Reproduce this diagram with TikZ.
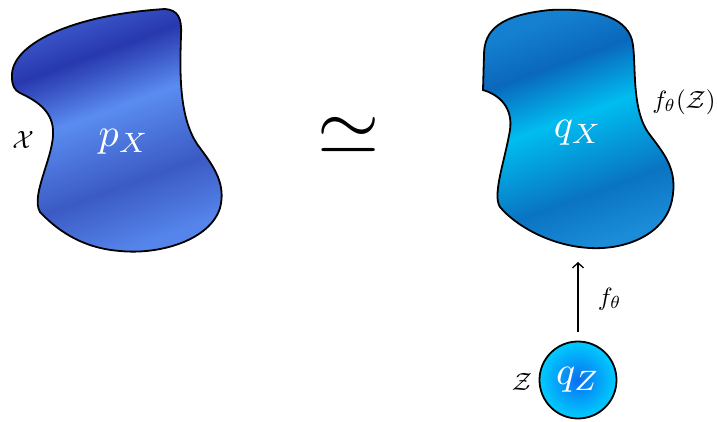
\documentclass[tikz,border=0pt]{standalone}
\usepackage{amsmath,amssymb}
\usetikzlibrary{arrows.meta}
\definecolor{ldA}{HTML}{3A56C8}
\definecolor{ldB}{HTML}{2838AE}
\definecolor{ldC}{HTML}{5A8CF0}
\definecolor{ldD}{HTML}{3B5AC4}
\definecolor{ldE}{HTML}{5585EA}
\definecolor{rdA}{HTML}{1580D0}
\definecolor{rdB}{HTML}{0A68BC}
\definecolor{rdC}{HTML}{00BDF0}
\definecolor{rdD}{HTML}{0A74C2}
\definecolor{rdE}{HTML}{1A8CD8}
\definecolor{czin}{HTML}{0A6FF0}
\definecolor{czout}{HTML}{00CCFF}
\pgfdeclareverticalshading{blobL}{100bp}{color(0bp)=(ldE); color(26bp)=(ldE); color(39bp)=(ldD); color(55bp)=(ldC); color(67bp)=(ldB); color(75bp)=(ldA); color(100bp)=(ldA)}
\pgfdeclareverticalshading{blobR}{100bp}{color(0bp)=(rdE); color(25bp)=(rdE); color(36bp)=(rdD); color(53bp)=(rdC); color(65bp)=(rdB); color(75bp)=(rdA); color(100bp)=(rdA)}
\tikzset{
  blob/.style={draw=black, line width=1.8pt},
  bigtxt/.style={text=white, scale=4},
  lbl/.style={text=black, scale=2.5},
}
\begin{document}
\begin{tikzpicture}[x=1pt,y=-1pt]
\useasboundingbox (0,0) rectangle (717,422);
% left blob
\shade[blob, shading=blobL, shading angle=20]
  (12,77) .. controls (10,45) and (70,15) .. (165,9)
  .. controls (178,10) and (182,18) .. (181,35)
  .. controls (180,70) and (178,120) .. (200,148)
  .. controls (215,168) and (226,185) .. (220,208)
  .. controls (210,240) and (160,255) .. (120,251)
  .. controls (80,248) and (55,228) .. (40,212)
  .. controls (30,195) and (55,155) .. (53,130)
  .. controls (52,110) and (35,100) .. (20,93)
  .. controls (14,90) and (12,85) .. (12,77) -- cycle;
\node[bigtxt] (px) at (124,142) {$p_X$};
\node[lbl] (calx) at (23,140) {$\mathcal{X}$};
% similar
\node[scale=8] (sim) at (349,136) {$\simeq$};
% right blob
\shade[blob, shading=blobR, shading angle=20]
  (483,90) -- (484,55) .. controls (484,30) and (500,15) .. (550,10)
  .. controls (590,8) and (625,15) .. (632,40)
  .. controls (637,60) and (630,110) .. (650,135)
  .. controls (665,155) and (678,170) .. (672,200)
  .. controls (665,235) and (625,250) .. (590,248)
  .. controls (550,246) and (515,225) .. (500,207)
  .. controls (492,195) and (505,160) .. (510,130)
  .. controls (513,108) and (500,95) .. (483,90) -- cycle;
\node[bigtxt] (qx) at (578,133) {$q_X$};
\node[lbl] (fz) at (684,102) {$f_\theta(\mathcal{Z})$};
\coordinate (qxb) at (578,248);
% latent circle
\node[circle, draw=black, line width=1.8pt, minimum size=77pt, inner sep=0pt,
      inner color=czin, outer color=czout] (qz) at (578,380) {};
\node[bigtxt] (qzt) at (578,380) {$q_Z$};
\node[lbl] (calz) at (522,382) {$\mathcal{Z}$};
\draw[-{Straight Barb[length=5pt,width=11pt]}, line width=1.3pt, shorten <=9pt, shorten >=14pt] (qz.north) -- (qxb)
  node[pos=0.45, right=10pt, lbl] (ft) {$f_\theta$};
\end{tikzpicture}
\end{document}
